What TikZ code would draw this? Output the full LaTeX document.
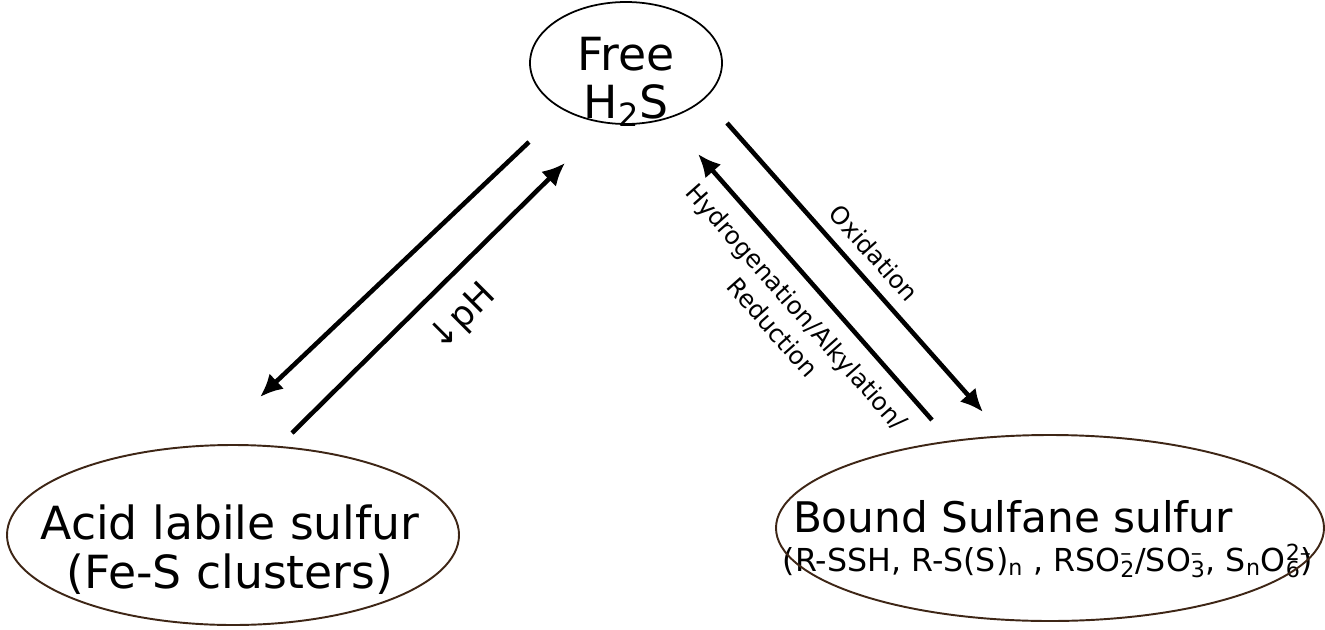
\documentclass[tikz,border=0pt]{standalone}
\usepackage{fontspec}
\setmainfont{DejaVu Sans}
\usepackage{tikz}
\usetikzlibrary{arrows.meta}
\definecolor{rimbrown}{RGB}{62,38,22}
\newcommand{\ionsub}[2]{\rlap{\textsuperscript{#2}}\textsubscript{#1}}

\begin{document}
\begin{tikzpicture}[x=0.02cm,y=-0.02cm]
\tikzset{species/.style = {align=center,inner sep=0pt}}
\tikzset{rim/.style = {draw=rimbrown,line width=1.1pt}}
\tikzset{edge/.style = {-{Latex[length=13pt,width=12pt]},line width=2.6pt}}
\tikzset{tag/.style = {font=\fontsize{14}{18}\selectfont,align=center,inner sep=0pt}}
\useasboundingbox (0,0) rectangle (1325,629);

% species
\node[species,font=\fontsize{26}{27}\selectfont] (free) at (626,82) {Free\\H\textsubscript{2}S};
\node[species,font=\fontsize{26}{28}\selectfont] (acid) at (230,550) {Acid labile sulfur\\(Fe-S clusters)};
\node[species] (bound) at (1048,539) {\fontsize{24}{26}\selectfont Bound Sulfane sulfur\hspace*{40pt}\\[5pt]
  \fontsize{18}{20}\selectfont (R-SSH, R-S(S)\textsubscript{n} , RSO\ionsub{2}{–}/SO\ionsub{3}{–}, S\textsubscript{n}O\ionsub{6}{2–})};

\draw[line width=1pt] (free.center) ++(0,-19) ellipse (96 and 61);
\draw[rim] (acid.center) ++(3,-15) ellipse (226 and 90);
\draw[rim] (bound.center) ++(2,-11) ellipse (274 and 93);

% arrow ends
\coordinate (la) at (529,142);
\coordinate (lb) at (260,397);
\coordinate (lc) at (292,433);
\coordinate (ld) at (565,163);
\coordinate (ra) at (727,123);
\coordinate (rb) at (983,412);
\coordinate (rc) at (932,420);
\coordinate (rd) at (698,154);

%edges
\draw[edge] (la) to[] (lb);
\draw[edge] (lc) to[] (ld);
\draw[edge] (ra) to[] (rb);
\draw[edge] (rc) to[] (rd);

% labels
\node[tag,font=\fontsize{20}{22}\selectfont,rotate=45] (ph) at (463,318) {↓pH};
\node[tag,rotate=-48.5] (ox) at (874,253) {Oxidation};
\node[tag,rotate=-48.5] (red) at (785,317) {Hydrogenation/Alkylation/\\Reduction};
\end{tikzpicture}
\end{document}
